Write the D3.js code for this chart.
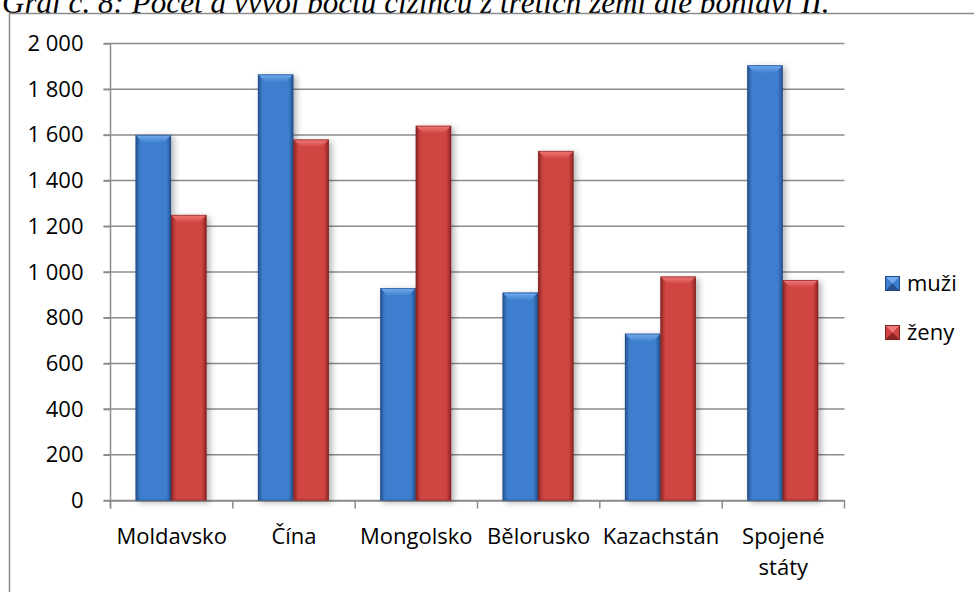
<!DOCTYPE html>
<html>
<head>
<meta charset="utf-8">
<script src="https://cdn.jsdelivr.net/npm/d3@7"></script>
<style>
  html, body { margin: 0; padding: 0; background: #fff; overflow: hidden; }
  svg { display: block; }
  .tick text { font-family: "Open Sans", Lato, sans-serif; font-size: 22px; fill: #000; }
</style>
</head>
<body>
<svg id="chart" width="974" height="592"></svg>
<script>
const countries = ["Moldavsko", "Čína", "Mongolsko", "Bělorusko", "Kazachstán", "Spojené státy"];
const muzi = [1600, 1865, 930, 910, 730, 1905];
const zeny = [1250, 1580, 1640, 1530, 980, 965];
const seriesNames = ["muži", "ženy"];
const yTicks = [0, 200, 400, 600, 800, 1000, 1200, 1400, 1600, 1800, 2000];

const svg = d3.select("#chart");
const margin = { top: 43.5, left: 110.5, right: 130, bottom: 92 };
const width = 844.5 - margin.left;
const height = 500.5 - margin.top;
const font = "'Open Sans', Lato, sans-serif";

// caption above the frame, its top cut by the page edge as in the source
const caption = svg.append("text")
    .attr("x", 2)
    .attr("y", 13)
    .style("font-family", "'Liberation Serif', serif")
    .style("font-style", "italic")
    .style("font-size", "26px")
    .text("Graf č. 8: Počet a vývoj počtu cizinců z třetích zemí dle pohlaví II.");
const capLen = caption.node().getComputedTextLength();
caption.style("font-size", (26 * 828 / capLen) + "px");

// chart frame
svg.append("rect")
    .attr("x", 9.5).attr("y", 13.5)
    .attr("width", 1000).attr("height", 700)
    .attr("fill", "#fff")
    .attr("stroke", "#8c8c8c")
    .attr("stroke-width", 1.5);

const defs = svg.append("defs");
const colors = {
    "muži": { mid: "#3e7fce", dark: "#25518f", edge: "#1f4a85", top: "#76adef" },
    "ženy": { mid: "#cf4442", dark: "#8c2422", edge: "#7d2120", top: "#f07b79" }
};
Object.entries(colors).forEach(([k, c], i) => {
    const gr = defs.append("linearGradient").attr("id", "grad" + i)
        .attr("x1", 0).attr("x2", 1).attr("y1", 0).attr("y2", 0);
    gr.append("stop").attr("offset", "0%").attr("stop-color", c.dark);
    gr.append("stop").attr("offset", "14%").attr("stop-color", c.mid);
    gr.append("stop").attr("offset", "86%").attr("stop-color", c.mid);
    gr.append("stop").attr("offset", "100%").attr("stop-color", c.dark);
    const t = defs.append("linearGradient").attr("id", "top" + i)
        .attr("x1", 0).attr("x2", 0).attr("y1", 0).attr("y2", 1);
    t.append("stop").attr("offset", "0%").attr("stop-color", c.top);
    t.append("stop").attr("offset", "100%").attr("stop-color", c.mid);
});
const shadow = defs.append("filter").attr("id", "shadow")
    .attr("x", "-30%").attr("y", "-10%").attr("width", "160%").attr("height", "130%");
shadow.append("feDropShadow")
    .attr("dx", 3).attr("dy", 2).attr("stdDeviation", 3)
    .attr("flood-color", "#000").attr("flood-opacity", 0.3);

const g = svg.append("g").attr("transform", `translate(${margin.left},${margin.top})`);

const x = d3.scaleBand().domain(countries).range([0, width]).paddingInner(0).paddingOuter(0);
const xInner = d3.scaleBand().domain(seriesNames).range([x.bandwidth() * 0.205, x.bandwidth() * 0.785]);
const y = d3.scaleLinear().domain([0, 2000]).range([height, 0]);

// gridlines
g.append("g")
    .selectAll("line")
    .data(yTicks)
    .join("line")
    .attr("x1", -7).attr("x2", width)
    .attr("y1", d => y(d)).attr("y2", d => y(d))
    .attr("stroke", "#8c8c8c")
    .attr("stroke-width", 1.5);

// y axis
const yAxis = d3.axisLeft(y).tickValues(yTicks).tickSize(7).tickPadding(20)
    .tickFormat(d => d3.format(",")(d).replace(",", " "));
const ya = g.append("g").call(yAxis);
ya.selectAll("line").attr("stroke", "#8c8c8c").attr("stroke-width", 1.5);
ya.select(".domain").remove();
g.append("line").attr("x1", 0).attr("x2", 0).attr("y1", 0).attr("y2", height + 8)
    .attr("stroke", "#8c8c8c").attr("stroke-width", 1.5);

// x axis
const xa = g.append("g").attr("transform", `translate(0,${height})`)
    .call(d3.axisBottom(x).tickSize(0).tickFormat(""));
xa.select(".domain").attr("stroke", "#8c8c8c").attr("stroke-width", 1.5);
g.append("g").selectAll("line")
    .data(d3.range(countries.length + 1))
    .join("line")
    .attr("x1", i => i * x.step()).attr("x2", i => i * x.step())
    .attr("y1", height).attr("y2", height + 8)
    .attr("stroke", "#8c8c8c").attr("stroke-width", 1.5);

// category labels, the long one wrapped onto two lines
const labels = g.append("g").selectAll("text")
    .data(countries)
    .join("text")
    .attr("x", d => x(d) + x.bandwidth() / 2)
    .attr("y", height + 43)
    .attr("text-anchor", "middle")
    .style("font-family", font)
    .style("font-size", "22px");
labels.each(function (d) {
    const words = d === "Spojené státy" ? d.split(" ") : [d];
    d3.select(this).selectAll("tspan").data(words).join("tspan")
        .attr("x", x(d) + x.bandwidth() / 2)
        .attr("dy", (w, i) => i === 0 ? 0 : 31)
        .text(w => w);
});

// bars
const rows = countries.map((c, i) => ({ country: c, values: [muzi[i], zeny[i]] }));
const groups = g.append("g").selectAll("g")
    .data(rows)
    .join("g")
    .attr("transform", d => `translate(${x(d.country)},0)`);

groups.selectAll("g.bar")
    .data(d => d.values.map((v, i) => ({ name: seriesNames[i], value: v, idx: i })))
    .join("g")
    .attr("class", "bar")
    .each(function (d) {
        const bx = xInner(d.name), bw = xInner.bandwidth();
        const by = y(d.value), bh = height - by;
        const c = colors[d.name];
        const b = d3.select(this);
        b.append("rect")
            .attr("x", bx).attr("y", by).attr("width", bw).attr("height", bh)
            .attr("fill", `url(#grad${d.idx})`)
            .attr("filter", "url(#shadow)");
        const bev = 8;
        b.append("path")
            .attr("d", `M${bx},${by}L${bx + bw},${by}L${bx + bw - bev},${by + bev}L${bx + bev},${by + bev}Z`)
            .attr("fill", `url(#top${d.idx})`);
        b.append("rect")
            .attr("x", bx + 0.5).attr("y", by + 0.5).attr("width", bw - 1).attr("height", bh - 1)
            .attr("fill", "none").attr("stroke", c.edge).attr("stroke-opacity", 0.6).attr("stroke-width", 1);
    });

// legend
const legend = svg.append("g").attr("transform", "translate(885,276)");
const items = legend.selectAll("g")
    .data(seriesNames)
    .join("g")
    .attr("transform", (d, i) => `translate(0,${i * 49})`);
items.each(function (d, i) {
    const c = colors[d];
    const s = 15;
    const it = d3.select(this);
    it.append("rect").attr("width", s).attr("height", s).attr("fill", c.mid);
    it.append("path").attr("d", `M0,0L${s},0L${s / 2},${s / 2}Z`).attr("fill", c.top);
    it.append("path").attr("d", `M0,${s}L${s},${s}L${s / 2},${s / 2}Z`).attr("fill", c.dark);
    it.append("rect").attr("x", 0.5).attr("y", 0.5).attr("width", s - 1).attr("height", s - 1)
        .attr("fill", "none").attr("stroke", c.edge).attr("stroke-width", 1);
});
items.append("text")
    .attr("x", 22).attr("y", 15)
    .style("font-family", font)
    .style("font-size", "22px")
    .text(d => d);
</script>
</body>
</html>
